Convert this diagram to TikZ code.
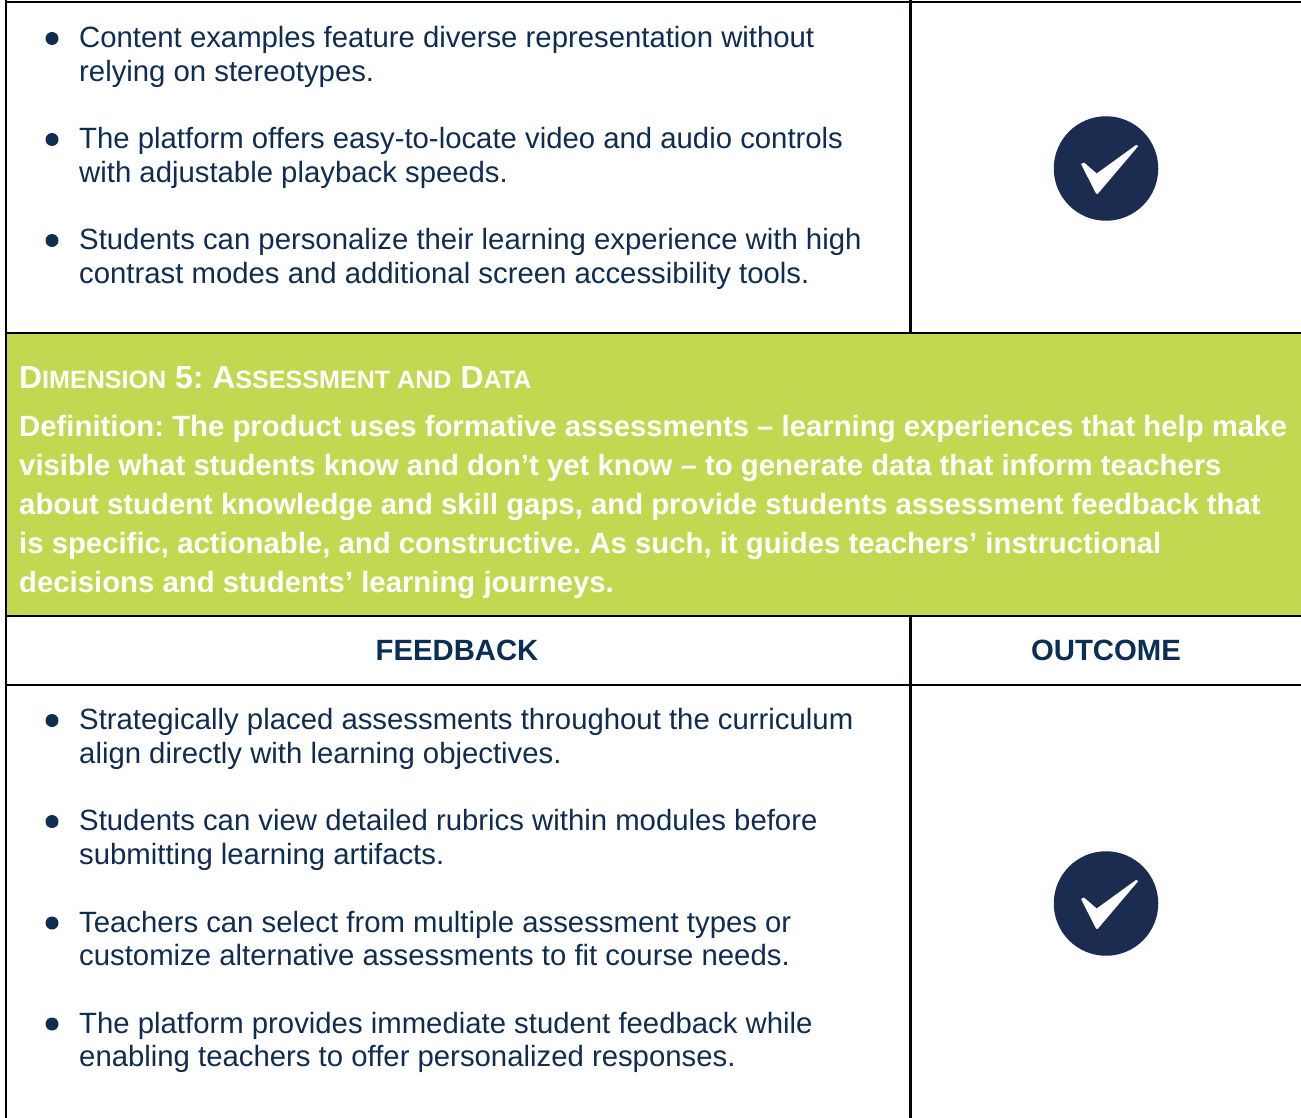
\documentclass[tikz,border=0pt]{standalone}
\usepackage{fontspec}
\setmainfont{Liberation Sans}
\frenchspacing
\definecolor{navy}{HTML}{1C2C51}
\definecolor{hdr}{HTML}{0B2E55}
\definecolor{lime}{HTML}{C3D851}
\definecolor{bodyc}{HTML}{0F2D52}
\tikzset{x=1pt,y=-1pt,
 rule/.style={line width=2.4pt,black!95!blue},
 body/.style={anchor=base west,inner sep=0,text=bodyc,font=\fontsize{29.32}{34}\selectfont},
 dotn/.style={circle,fill=bodyc,inner sep=0,minimum size=13pt},
 head/.style={inner sep=0,text=hdr,font=\bfseries\fontsize{29.3}{34}\selectfont},
 deff/.style={anchor=base west,inner sep=0,text=white,font=\bfseries\fontsize{29.32}{34}\selectfont},
 ttl/.style={anchor=base west,inner sep=0,text=white,font=\bfseries\fontsize{31.9}{36}\selectfont},
 check/.style={circle,fill=navy,minimum size=104.5pt,inner sep=0}}
\newcommand{\sm}[1]{{\fontsize{25.1}{30}\selectfont #1}}
\begin{document}
\begin{tikzpicture}
\useasboundingbox (0,0) rectangle (1301,1118);
\fill[white] (0,0) rectangle (1301,1118);
\fill[lime] (6,333) rectangle (1301,616);
\draw[rule] (6,2)--(1301,2);
\draw[rule] (6,0)--(6,1118);
\draw[rule] (910.5,0)--(910.5,333);
\draw[rule] (6,333)--(1301,333);
\draw[rule] (6,616)--(1301,616);
\draw[rule] (6,685)--(1301,685);
\draw[rule] (910.5,616)--(910.5,1118);
\foreach \y/\t in {48/{Content examples feature diverse representation without},82/{relying on stereotypes.},149/{The platform offers easy-to-locate video and audio controls},183/{with adjustable playback speeds.},249/{Students can personalize their learning experience with high},283/{contrast modes and additional screen accessibility tools.},729/{Strategically placed assessments throughout the curriculum},763/{align directly with learning objectives.},830/{Students can view detailed rubrics within modules before},864/{submitting learning artifacts.},932/{Teachers can select from multiple assessment types or},965/{customize alternative assessments to fit course needs.},1033/{The platform provides immediate student feedback while},1066/{enabling teachers to offer personalized responses.}}
  \node[body] at (79,\y) {\t};
\foreach \y in {38.5,139.5,240.5,720.5,821.5,923,1024}
  \node[dotn] at (52,\y) {};
\node[ttl] (title) at (19,388) {D\sm{IMENSION} 5: A\sm{SSESSMENT AND} D\sm{ATA}};
\foreach \y/\t in {436/{Definition: The product uses formative assessments – learning experiences that help make},475/{visible what students know and don’t yet know – to generate data that inform teachers},514/{about student knowledge and skill gaps, and provide students assessment feedback that},553/{is specific, actionable, and constructive. As such, it guides teachers’ instructional},592/{decisions and students’ learning journeys.}}
  \node[deff] at (19,\y) {\t};
\node[head] (fb) at (457,650) {FEEDBACK};
\node[head] (oc) at (1106,650) {OUTCOME};
\foreach \y in {168.5,903.5}{
  \node[check] at (1106,\y) {};
  \fill[white] (1081,\y-4.5) -- (1084,\y-6) -- (1096.7,\y+5) -- (1136,\y-23.5) -- (1138.3,\y-22.5) -- (1097.6,\y+25.5) -- (1096,\y+25) -- cycle;
}
\end{tikzpicture}
\end{document}
